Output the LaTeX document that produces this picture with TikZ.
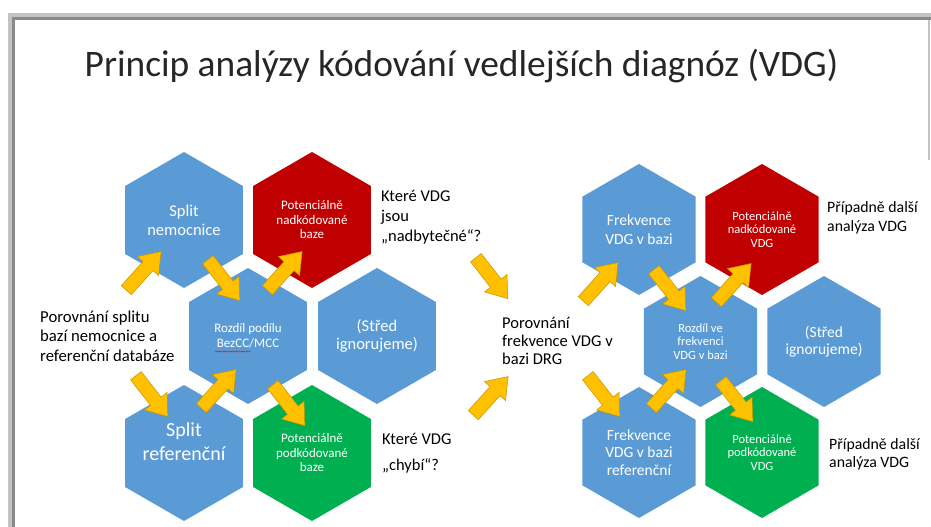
\documentclass[tikz,border=0pt]{standalone}
\usepackage{fontspec}
\setmainfont{Carlito}
\usetikzlibrary{shapes.geometric,shapes.arrows,calc,decorations.pathmorphing}
\definecolor{hblue}{HTML}{5B9BD5}
\definecolor{hred}{HTML}{C00000}
\definecolor{hgreen}{HTML}{00B050}
\definecolor{ayel}{HTML}{FFC000}
\definecolor{aedge}{HTML}{C59400}
\definecolor{frlight}{HTML}{C3C3C3}
\definecolor{frdark}{HTML}{8A8A8A}
\newcommand\fs[2]{\fontsize{#1}{#2}\selectfont}
\tikzset{
  hexL/.style={regular polygon, regular polygon sides=6, shape border rotate=30,
    minimum size=136pt, inner sep=0pt, outer sep=0pt, text=white, align=center},
  hexR/.style={hexL, minimum size=131pt},
  yarrow/.style={single arrow, fill=ayel, draw=aedge, line width=0.5pt,
    minimum height=52pt, inner sep=6.5pt, single arrow head extend=7.5pt,
    single arrow tip angle=72, single arrow head indent=0pt},
  plain/.style={inner sep=0pt, align=left, anchor=west, text=black},
}
\begin{document}
\begin{tikzpicture}[x=1pt,y=-1pt]
\useasboundingbox (0,0) rectangle (931,527);
% slide frame
\fill[frlight] (8,13) rectangle (931,527);
\fill[frdark] (12,17) rectangle (931,527);
\fill[white] (15,20) rectangle (931,527);
\draw[frlight, line width=1.2pt] (929,20) -- (929,160);
% title
\node[inner sep=0pt, font=\fs{37.4}{40}, text=black!85] (title) at (461.5,66) {Princip analýzy kódování vedlejších diagnóz (VDG)};
% left cluster
\node[hexL, fill=hblue, font=\fs{16.5}{19}] (SN) at (184,220) {Split\\nemocnice};
\node[hexL, fill=hred, font=\fs{13}{14.5}] (PN) at (312,220) {Potenciálně\\nadkódované\\baze};
\node[hexL, fill=hblue, font=\fs{13}{15}] (RP) at (248,336) {Rozdíl podílu\\BezCC/MCC};
\node[hexL, fill=hblue, font=\fs{16.5}{18}] (ST) at (377,336) {(Střed\\ignorujeme)};
\node[hexL, fill=hblue] (SR) at (184,453) {};
\node[inner sep=0pt, text=white, align=center, font=\fs{20}{24}] (SRt) at (184,442) {Split\\referenční};
\node[hexL, fill=hgreen, font=\fs{13}{14.5}] (PP) at (312,453) {Potenciálně\\podkódované\\baze};
\draw[red, line width=0.4pt, decorate, decoration={snake, amplitude=0.6pt, segment length=2.4pt}]
  ([xshift=-33pt,yshift=-15.5pt]RP.center) -- ([xshift=3pt,yshift=-15.5pt]RP.center);
% right cluster
\node[hexR, fill=hblue, font=\fs{15.5}{19}] (FV) at (639,229.5) {Frekvence\\VDG v bazi};
\node[hexR, fill=hred, font=\fs{12.5}{13.5}] (PN2) at (762,229.5) {Potenciálně\\nadkódované\\VDG};
\node[hexR, fill=hblue, font=\fs{12.5}{13.5}] (RV) at (700.5,341.5) {Rozdíl ve\\frekvenci\\VDG v bazi};
\node[hexR, fill=hblue, font=\fs{15.5}{17}] (ST2) at (824,341.5) {(Střed\\ignorujeme)};
\node[hexR, fill=hblue, font=\fs{15.5}{17.5}] (FR) at (639,452.5) {Frekvence\\VDG v bazi\\referenční};
\node[hexR, fill=hgreen, font=\fs{12.5}{13.5}] (PP2) at (762,452.5) {Potenciálně\\podkódované\\VDG};
% side texts
\node[plain, font=\fs{16.7}{19.5}] (T1) at (40,336) {Porovnání splitu\\bazí nemocnice a\\referenční databáze};
\node[plain, font=\fs{16.5}{20}] (T2) at (381,217) {Které VDG\\jsou\\„nadbytečné“?};
\node[plain, font=\fs{16.5}{26}] (T3) at (382,453) {Které VDG\\„chybí“?};
\node[plain, font=\fs{16.5}{18}] (T4) at (502,341) {Porovnání\\frekvence VDG v\\bazi DRG};
\node[plain, font=\fs{15.8}{19}] (T5) at (827,217.5) {Případně další\\analýza VDG};
\node[plain, font=\fs{15.8}{18}] (T6) at (829,454) {Případně další\\analýza VDG};
% block arrows
\node[yarrow, rotate=48]  (A1)  at (140.6,274.3) {};
\node[yarrow, rotate=-52] (A2)  at (221,276.5) {};
\node[yarrow, rotate=48]  (A3)  at (281.6,274.3) {};
\node[yarrow, rotate=-52] (A4)  at (149,392.5) {};
\node[yarrow, rotate=48]  (A5)  at (215.6,392.3) {};
\node[yarrow, rotate=-52] (A6)  at (286,401.5) {};
\node[yarrow, rotate=-52] (A7)  at (489,274.5) {};
\node[yarrow, rotate=48]  (A8)  at (487.6,399.3) {};
\node[yarrow, rotate=48]  (A9)  at (597.6,285.3) {};
\node[yarrow, rotate=-52] (A10) at (667,286.5) {};
\node[yarrow, rotate=48]  (A11) at (730.6,286.3) {};
\node[yarrow, rotate=-52] (A12) at (601,392.5) {};
\node[yarrow, rotate=48]  (A13) at (665.6,392.3) {};
\node[yarrow, rotate=-52] (A14) at (734,397.5) {};
\end{tikzpicture}
\end{document}
